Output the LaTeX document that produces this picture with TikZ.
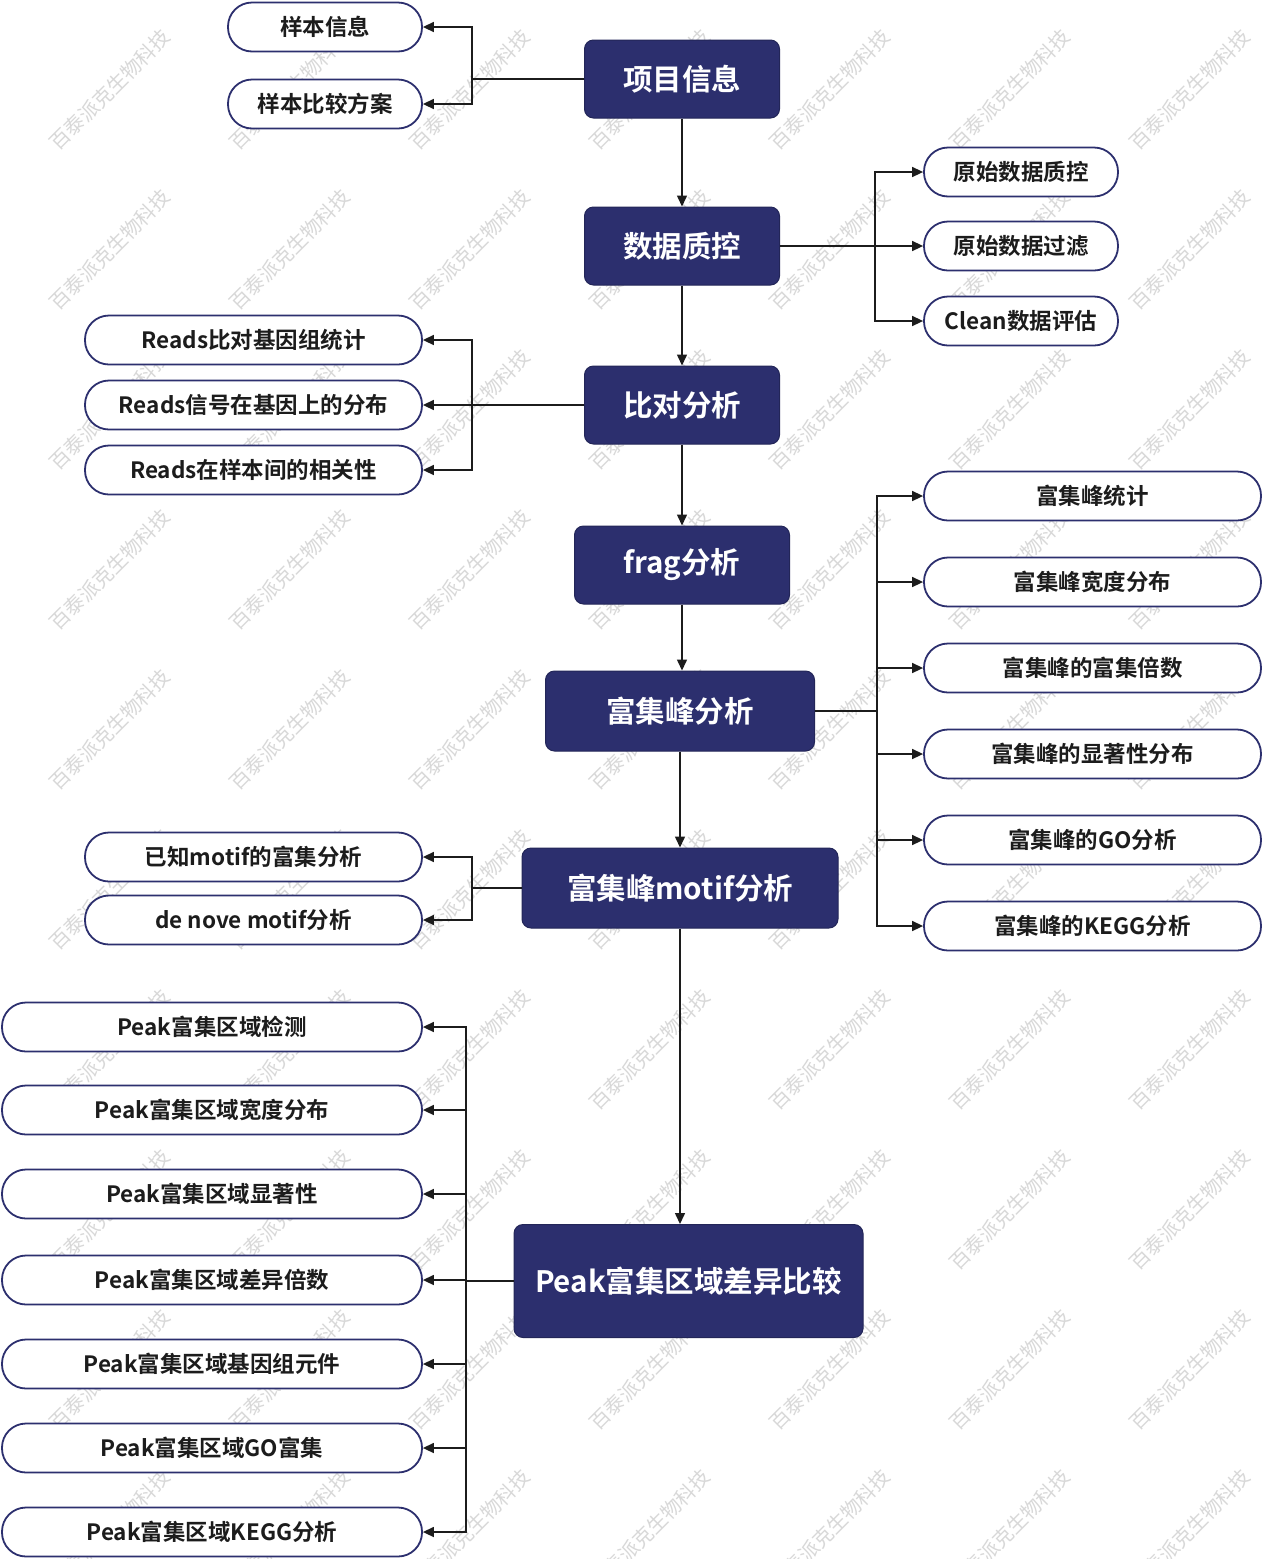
\documentclass[tikz,border=0pt]{standalone}
\usepackage{fontspec}
\setmainfont{Noto Sans CJK SC}[BoldFont={Noto Sans CJK SC Bold}]
\usetikzlibrary{arrows.meta}
\definecolor{navy}{HTML}{2C2F6E}
\definecolor{ink}{HTML}{1C1C1C}
\definecolor{wm}{HTML}{D8D8D8}
\tikzset{
  mainbox/.style={draw=navy!80!black, line width=1pt, fill=navy, rounded corners=9pt, text=white,
    font=\fontsize{29.5}{33}\selectfont\bfseries, inner sep=0pt},
  pill/.style={draw=navy, line width=1.8pt, fill=white, rounded corners=24pt, text=ink,
    minimum height=49pt, font=\fontsize{22.5}{25}\selectfont\bfseries, inner sep=0pt},
  conn/.style={draw=ink, line width=1.5pt},
  arr/.style={conn, -{Triangle[length=11pt,width=10pt]}},
  wmark/.style={text=wm, rotate=45, font=\fontsize{20}{21}\selectfont}
}
\begin{document}
\begin{tikzpicture}[x=1pt,y=-1pt]
\useasboundingbox (0,0) rectangle (1263,1559);
\fill[white] (0,0) rectangle (1263,1559);
% watermark
\foreach \r in {0,...,9}{
  \foreach \c in {0,...,6}{
    \node[wmark] (wm-\r-\c) at ({110+180*\c},{90+160*\r}) {百泰派克生物科技};
  }
}
% main chain
\node[mainbox, minimum width=195pt, minimum height=78pt] (xm) at (682,79) {项目信息};
\node[mainbox, minimum width=195pt, minimum height=78pt] (qc) at (682,246) {数据质控};
\node[mainbox, minimum width=195pt, minimum height=78pt] (bd) at (682,405) {比对分析};
\node[mainbox, minimum width=215pt, minimum height=78pt] (fg) at (682,565) {frag分析};
\node[mainbox, minimum width=269pt, minimum height=80pt] (fj) at (680,711) {富集峰分析};
\node[mainbox, minimum width=316pt, minimum height=80pt] (mf) at (680,888) {富集峰motif分析};
\node[mainbox, minimum width=349pt, minimum height=113pt] (pk) at (688.5,1281) {Peak富集区域差异比较};

% junction x positions
\coordinate (j1) at (472,0);
\coordinate (j2) at (875,0);
\coordinate (j3) at (472,0);
\coordinate (j4) at (877,0);
\coordinate (j5) at (472,0);
\coordinate (j6) at (466,0);

% 项目信息 children
\node[pill, minimum width=194pt] (a1) at (325,27) {样本信息};
\node[pill, minimum width=194pt] (a2) at (325,104) {样本比较方案};
% 数据质控 children
\node[pill, minimum width=194pt] (b1) at (1021,172) {原始数据质控};
\node[pill, minimum width=194pt] (b2) at (1021,246) {原始数据过滤};
\node[pill, minimum width=194pt] (b3) at (1021,321) {Clean数据评估};
% 比对分析 children
\node[pill, minimum width=337pt] (c1) at (253.5,340) {Reads比对基因组统计};
\node[pill, minimum width=337pt] (c2) at (253.5,405) {Reads信号在基因上的分布};
\node[pill, minimum width=337pt] (c3) at (253.5,470) {Reads在样本间的相关性};
% 富集峰分析 children
\node[pill, minimum width=337pt] (d1) at (1092.5,496) {富集峰统计};
\node[pill, minimum width=337pt] (d2) at (1092.5,582) {富集峰宽度分布};
\node[pill, minimum width=337pt] (d3) at (1092.5,668) {富集峰的富集倍数};
\node[pill, minimum width=337pt] (d4) at (1092.5,754) {富集峰的显著性分布};
\node[pill, minimum width=337pt] (d5) at (1092.5,840) {富集峰的GO分析};
\node[pill, minimum width=337pt] (d6) at (1092.5,926) {富集峰的KEGG分析};
% motif children
\node[pill, minimum width=337pt] (e1) at (253.5,857) {已知motif的富集分析};
\node[pill, minimum width=337pt] (e2) at (253.5,920) {de nove motif分析};
% Peak children
\node[pill, minimum width=420pt] (f1) at (212,1027) {Peak富集区域检测};
\node[pill, minimum width=420pt] (f2) at (212,1110) {Peak富集区域宽度分布};
\node[pill, minimum width=420pt] (f3) at (212,1194) {Peak富集区域显著性};
\node[pill, minimum width=420pt] (f4) at (212,1280) {Peak富集区域差异倍数};
\node[pill, minimum width=420pt] (f5) at (212,1364) {Peak富集区域基因组元件};
\node[pill, minimum width=420pt] (f6) at (212,1448) {Peak富集区域GO富集};
\node[pill, minimum width=420pt] (f7) at (212,1532) {Peak富集区域KEGG分析};

% main vertical arrows
\draw[arr] (xm.south) -- (qc.north);
\draw[arr] (qc.south) -- (bd.north);
\draw[arr] (bd.south) -- (fg.north);
\draw[arr] (fg.south) -- (fj.north -| fg.south);
\draw[arr] (fj.south) -- (mf.north -| fj.south);
\draw[arr] (mf.south) -- (pk.north -| mf.south);

% fan-outs
\foreach \c in {a1,a2}{ \draw[arr] (xm.west) -- (xm.west -| j1) |- (\c.east); }
\foreach \c in {b1,b2,b3}{ \draw[arr] (qc.east) -- (qc.east -| j2) |- (\c.west); }
\foreach \c in {c1,c2,c3}{ \draw[arr] (bd.west) -- (bd.west -| j3) |- (\c.east); }
\foreach \c in {d1,d2,d3,d4,d5,d6}{ \draw[arr] (fj.east) -- (fj.east -| j4) |- (\c.west); }
\foreach \c in {e1,e2}{ \draw[arr] (mf.west) -- (mf.west -| j5) |- (\c.east); }
\foreach \c in {f1,f2,f3,f4,f5,f6,f7}{ \draw[arr] (pk.west) -- (pk.west -| j6) |- (\c.east); }
\end{tikzpicture}
\end{document}
